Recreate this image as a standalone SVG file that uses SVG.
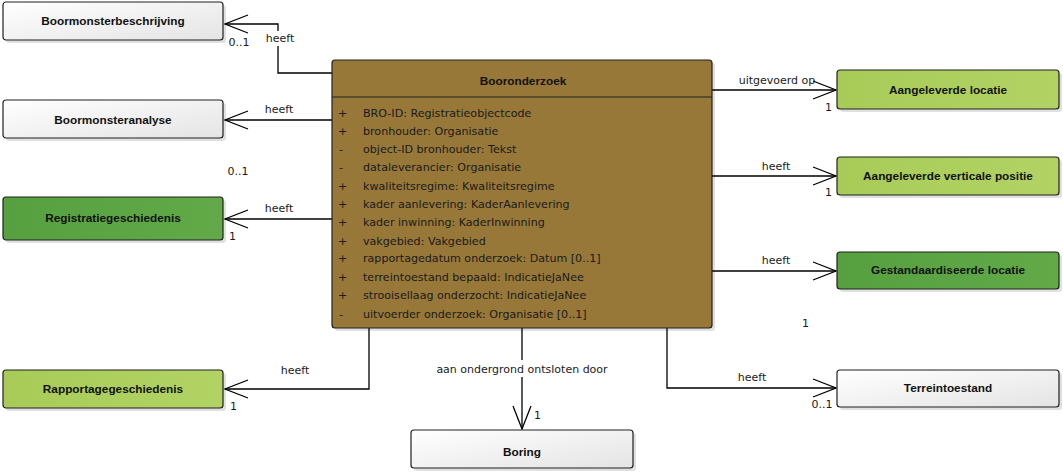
<svg xmlns="http://www.w3.org/2000/svg" width="1063" height="474" viewBox="0 0 1063 474">
<style>
.box{stroke:#202020;stroke-width:1.2}
.gray{fill:url(#gGray)}
.lg{fill:url(#gLight)}
.dg{fill:url(#gDark)}
.main{fill:#977839}
.shadow{fill:#000;opacity:0.12}
.bt{font-family:"Liberation Sans",Arial,sans-serif;font-size:11.8px;font-weight:bold;fill:#111;text-anchor:middle}
.at{font-family:"DejaVu Sans",Verdana,sans-serif;font-size:11.1px;fill:#1a1a1a}
.lb{font-family:"DejaVu Sans",Verdana,sans-serif;font-size:11px;fill:#1a1a1a}
.mid{text-anchor:middle}
.conn{fill:none;stroke:#000;stroke-width:1.3}
</style>
<defs>
<linearGradient id="gGray" x1="0" y1="0" x2="1" y2="1">
<stop offset="0" stop-color="#ffffff"/><stop offset="1" stop-color="#e4e4e4"/>
</linearGradient>
<linearGradient id="gLight" x1="0" y1="0" x2="1" y2="0">
<stop offset="0" stop-color="#a8cb58"/><stop offset="1" stop-color="#b2d364"/>
</linearGradient>
<linearGradient id="gDark" x1="0" y1="0" x2="1" y2="0">
<stop offset="0" stop-color="#56a040"/><stop offset="1" stop-color="#62aa48"/>
</linearGradient>
<marker id="arr" markerUnits="userSpaceOnUse" markerWidth="30" markerHeight="24" viewBox="-25 -12 30 24" refX="0" refY="0" orient="auto">
<path d="M-23,-9 L0,0 L-23,9" fill="none" stroke="#000" stroke-width="1.3"/>
</marker>
</defs>
<rect width="1063" height="474" fill="#fff"/>

<g id="connectors">
<path class="conn" d="M332,73 H278 V24 H225" marker-end="url(#arr)"/>
<path class="conn" d="M332,120 H225" marker-end="url(#arr)"/>
<path class="conn" d="M332,219 H225" marker-end="url(#arr)"/>
<path class="conn" d="M369,328 V389 H225" marker-end="url(#arr)"/>
<path class="conn" d="M522,328 V429" marker-end="url(#arr)"/>
<path class="conn" d="M712,90 H836" marker-end="url(#arr)"/>
<path class="conn" d="M712,176 H836" marker-end="url(#arr)"/>
<path class="conn" d="M712,271 H836" marker-end="url(#arr)"/>
<path class="conn" d="M667,328 V388 H836" marker-end="url(#arr)"/>
<rect x="262" y="31" width="34" height="15" fill="#fff"/>
<text class="lb mid" x="280" y="42">heeft</text>
<text class="lb mid" x="239" y="46">0..1</text>
<text class="lb mid" x="279" y="113">heeft</text>
<text class="lb mid" x="238" y="175">0..1</text>
<text class="lb mid" x="279" y="212">heeft</text>
<text class="lb" x="229" y="240">1</text>
<text class="lb mid" x="295" y="374">heeft</text>
<text class="lb" x="230" y="410">1</text>
<rect x="434" y="360" width="176" height="17" fill="#fff"/>
<text class="lb mid" x="522" y="373">aan ondergrond ontsloten door</text>
<text class="lb" x="534" y="419">1</text>
<text class="lb mid" x="777" y="84">uitgevoerd op</text>
<text class="lb" x="825" y="111">1</text>
<text class="lb mid" x="776" y="170">heeft</text>
<text class="lb" x="825" y="196">1</text>
<text class="lb mid" x="776" y="264">heeft</text>
<text class="lb" x="802" y="327">1</text>
<text class="lb mid" x="752" y="381">heeft</text>
<text class="lb mid" x="822" y="408">0..1</text>
</g>

<g id="Booronderzoek">
<rect class="shadow" x="335" y="63" width="380" height="268" rx="3"/>
<rect class="box main" x="332" y="60" width="380" height="268" rx="3"/>
<line x1="332" y1="97" x2="712" y2="97" stroke="#202020" stroke-width="1.2"/>
<text class="bt" x="523" y="85">Booronderzoek</text>
<g class="at">
<text x="338" y="117">+</text><text x="363" y="117">BRO-ID: Registratieobjectcode</text>
<text x="338" y="135">+</text><text x="363" y="135">bronhouder: Organisatie</text>
<text x="339" y="153">-</text><text x="363" y="153">object-ID bronhouder: Tekst</text>
<text x="339" y="171">-</text><text x="363" y="171">dataleverancier: Organisatie</text>
<text x="338" y="190">+</text><text x="363" y="190">kwaliteitsregime: Kwaliteitsregime</text>
<text x="338" y="208">+</text><text x="363" y="208">kader aanlevering: KaderAanlevering</text>
<text x="338" y="226">+</text><text x="363" y="226">kader inwinning: KaderInwinning</text>
<text x="338" y="245">+</text><text x="363" y="245">vakgebied: Vakgebied</text>
<text x="338" y="262">+</text><text x="363" y="262">rapportagedatum onderzoek: Datum [0..1]</text>
<text x="338" y="281">+</text><text x="363" y="281">terreintoestand bepaald: IndicatieJaNee</text>
<text x="338" y="299">+</text><text x="363" y="299">strooisellaag onderzocht: IndicatieJaNee</text>
<text x="339" y="318">-</text><text x="363" y="318">uitvoerder onderzoek: Organisatie [0..1]</text>
</g>
</g>

<g id="Boormonsterbeschrijving">
<rect class="shadow" x="6" y="5" width="220" height="38" rx="3"/>
<rect class="box gray" x="3" y="2" width="220" height="38" rx="3"/>
<text class="bt" x="113" y="25">Boormonsterbeschrijving</text>
</g>
<g id="Boormonsteranalyse">
<rect class="shadow" x="6" y="103" width="220" height="38" rx="3"/>
<rect class="box gray" x="3" y="100" width="220" height="38" rx="3"/>
<text class="bt" x="113" y="124">Boormonsteranalyse</text>
</g>
<g id="Registratiegeschiedenis">
<rect class="shadow" x="6" y="200" width="220" height="43" rx="3"/>
<rect class="box dg" x="3" y="197" width="220" height="43" rx="3"/>
<text class="bt" x="113" y="222">Registratiegeschiedenis</text>
</g>
<g id="Rapportagegeschiedenis">
<rect class="shadow" x="6" y="373" width="220" height="38" rx="3"/>
<rect class="box lg" x="3" y="370" width="220" height="38" rx="3"/>
<text class="bt" x="113" y="393">Rapportagegeschiedenis</text>
</g>
<g id="Boring">
<rect class="shadow" x="414" y="433" width="222" height="38" rx="3"/>
<rect class="box gray" x="411" y="430" width="222" height="38" rx="3"/>
<text class="bt" x="522" y="456">Boring</text>
</g>
<g id="AangeleverdeLocatie">
<rect class="shadow" x="840" y="73" width="222" height="39" rx="3"/>
<rect class="box lg" x="837" y="70" width="222" height="39" rx="3"/>
<text class="bt" x="948" y="94">Aangeleverde locatie</text>
</g>
<g id="AangeleverdeVerticalePositie">
<rect class="shadow" x="840" y="160" width="222" height="38" rx="3"/>
<rect class="box lg" x="837" y="157" width="222" height="38" rx="3"/>
<text class="bt" x="948" y="180">Aangeleverde verticale positie</text>
</g>
<g id="GestandaardiseerdeLocatie">
<rect class="shadow" x="840" y="255" width="222" height="37" rx="3"/>
<rect class="box dg" x="837" y="252" width="222" height="37" rx="3"/>
<text class="bt" x="948" y="274">Gestandaardiseerde locatie</text>
</g>
<g id="Terreintoestand">
<rect class="shadow" x="840" y="373" width="222" height="37" rx="3"/>
<rect class="box gray" x="837" y="370" width="222" height="37" rx="3"/>
<text class="bt" x="948" y="392">Terreintoestand</text>
</g>
</svg>
